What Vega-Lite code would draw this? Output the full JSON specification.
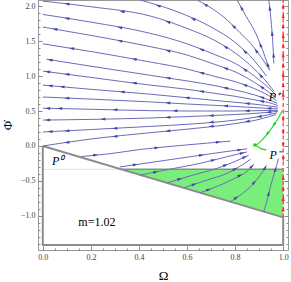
{
"$schema":"https://vega.github.io/schema/vega-lite/v6.json",
"width":250,"height":250,
"autosize":{"type":"none"},
"padding":{"left":38,"top":0,"right":3,"bottom":32},
"background":"white",
"config":{"view":{"stroke":"#999999","strokeWidth":1},"font":"Liberation Serif"},
"datasets":{
"zone":[{"omega":0.327,"phi":-0.333,"phi2":-0.333},{"omega":1,"phi":-0.333,"phi2":-1.02}],
"faint":[{"o":0,"omega":0,"phi":-0.333},{"o":1,"omega":0.327,"phi":-0.333}],
"ztop":[{"o":0,"omega":0.327,"phi":-0.333},{"o":1,"omega":1,"phi":-0.333}],
"box":[{"o":0,"omega":0,"phi":0},{"o":1,"omega":0,"phi":-1.414},{"o":2,"omega":1,"phi":-1.414},{"o":3,"omega":1,"phi":-1.02},{"o":4,"omega":0,"phi":0}],
"sl":[
{"id":"T4","o":0,"omega":0.94,"phi":2.086},{"id":"T4","o":1,"omega":0.948,"phi":1.85},{"id":"T4","o":2,"omega":0.954,"phi":1.61},{"id":"T4","o":3,"omega":0.958,"phi":1.4},{"id":"T4","o":4,"omega":0.961,"phi":1.18},
{"id":"T3","o":0,"omega":0.808,"phi":2.086},{"id":"T3","o":1,"omega":0.843,"phi":1.871},{"id":"T3","o":2,"omega":0.889,"phi":1.586},{"id":"T3","o":3,"omega":0.922,"phi":1.3},{"id":"T3","o":4,"omega":0.943,"phi":1.086},
{"id":"T2","o":0,"omega":0.642,"phi":2.086},{"id":"T2","o":1,"omega":0.71,"phi":1.95},{"id":"T2","o":2,"omega":0.767,"phi":1.8},{"id":"T2","o":3,"omega":0.82,"phi":1.62},{"id":"T2","o":4,"omega":0.864,"phi":1.467},{"id":"T2","o":5,"omega":0.91,"phi":1.26},{"id":"T2","o":6,"omega":0.945,"phi":1.08},
{"id":"T1","o":0,"omega":0.405,"phi":2.086},{"id":"T1","o":1,"omega":0.55,"phi":1.93},{"id":"T1","o":2,"omega":0.7,"phi":1.7},{"id":"T1","o":3,"omega":0.8,"phi":1.48},{"id":"T1","o":4,"omega":0.88,"phi":1.22},{"id":"T1","o":5,"omega":0.93,"phi":1.0},
{"id":"A","o":0,"omega":0,"phi":2.07},{"id":"A","o":1,"omega":0.2,"phi":1.99},{"id":"A","o":2,"omega":0.447,"phi":1.857},{"id":"A","o":3,"omega":0.6,"phi":1.68},{"id":"A","o":4,"omega":0.72,"phi":1.5},{"id":"A","o":5,"omega":0.8,"phi":1.33},{"id":"A","o":6,"omega":0.88,"phi":1.1},{"id":"A","o":7,"omega":0.935,"phi":0.9},{"id":"A","o":8,"omega":0.962,"phi":0.78},
{"id":"B","o":0,"omega":0,"phi":1.88},{"id":"B","o":1,"omega":0.2,"phi":1.77},{"id":"B","o":2,"omega":0.447,"phi":1.61},{"id":"B","o":3,"omega":0.6,"phi":1.46},{"id":"B","o":4,"omega":0.72,"phi":1.3},{"id":"B","o":5,"omega":0.8,"phi":1.18},{"id":"B","o":6,"omega":0.88,"phi":1.0},{"id":"B","o":7,"omega":0.94,"phi":0.83},{"id":"B","o":8,"omega":0.967,"phi":0.74},
{"id":"C","o":0,"omega":0,"phi":1.7},{"id":"C","o":1,"omega":0.2,"phi":1.58},{"id":"C","o":2,"omega":0.447,"phi":1.42},{"id":"C","o":3,"omega":0.6,"phi":1.3},{"id":"C","o":4,"omega":0.72,"phi":1.16},{"id":"C","o":5,"omega":0.8,"phi":1.06},{"id":"C","o":6,"omega":0.88,"phi":0.91},{"id":"C","o":7,"omega":0.94,"phi":0.77},{"id":"C","o":8,"omega":0.97,"phi":0.69},
{"id":"D","o":0,"omega":0,"phi":1.46},{"id":"D","o":1,"omega":0.2,"phi":1.35},{"id":"D","o":2,"omega":0.447,"phi":1.2},{"id":"D","o":3,"omega":0.6,"phi":1.1},{"id":"D","o":4,"omega":0.72,"phi":0.99},{"id":"D","o":5,"omega":0.8,"phi":0.92},{"id":"D","o":6,"omega":0.88,"phi":0.82},{"id":"D","o":7,"omega":0.94,"phi":0.72},{"id":"D","o":8,"omega":0.972,"phi":0.65},
{"id":"E","o":0,"omega":0.015,"phi":1.24},{"id":"E","o":1,"omega":0.2,"phi":1.14},{"id":"E","o":2,"omega":0.447,"phi":1.01},{"id":"E","o":3,"omega":0.6,"phi":0.93},{"id":"E","o":4,"omega":0.72,"phi":0.86},{"id":"E","o":5,"omega":0.8,"phi":0.8},{"id":"E","o":6,"omega":0.88,"phi":0.73},{"id":"E","o":7,"omega":0.94,"phi":0.66},{"id":"E","o":8,"omega":0.975,"phi":0.61},
{"id":"F","o":0,"omega":0,"phi":1.07},{"id":"F","o":1,"omega":0.2,"phi":0.98},{"id":"F","o":2,"omega":0.447,"phi":0.87},{"id":"F","o":3,"omega":0.6,"phi":0.81},{"id":"F","o":4,"omega":0.72,"phi":0.75},{"id":"F","o":5,"omega":0.8,"phi":0.71},{"id":"F","o":6,"omega":0.88,"phi":0.66},{"id":"F","o":7,"omega":0.94,"phi":0.62},{"id":"F","o":8,"omega":0.977,"phi":0.58},
{"id":"G","o":0,"omega":0,"phi":0.87},{"id":"G","o":1,"omega":0.2,"phi":0.81},{"id":"G","o":2,"omega":0.447,"phi":0.74},{"id":"G","o":3,"omega":0.6,"phi":0.69},{"id":"G","o":4,"omega":0.72,"phi":0.65},{"id":"G","o":5,"omega":0.8,"phi":0.625},{"id":"G","o":6,"omega":0.9,"phi":0.59},{"id":"G","o":7,"omega":0.978,"phi":0.555},
{"id":"H","o":0,"omega":0,"phi":0.7},{"id":"H","o":1,"omega":0.2,"phi":0.67},{"id":"H","o":2,"omega":0.447,"phi":0.63},{"id":"H","o":3,"omega":0.6,"phi":0.6},{"id":"H","o":4,"omega":0.72,"phi":0.58},{"id":"H","o":5,"omega":0.8,"phi":0.565},{"id":"H","o":6,"omega":0.9,"phi":0.545},{"id":"H","o":7,"omega":0.978,"phi":0.53},
{"id":"I","o":0,"omega":0,"phi":0.54},{"id":"I","o":1,"omega":0.2,"phi":0.525},{"id":"I","o":2,"omega":0.447,"phi":0.505},{"id":"I","o":3,"omega":0.6,"phi":0.5},{"id":"I","o":4,"omega":0.8,"phi":0.5},{"id":"I","o":5,"omega":0.9,"phi":0.505},{"id":"I","o":6,"omega":0.978,"phi":0.51},
{"id":"J","o":0,"omega":0,"phi":0.37},{"id":"J","o":1,"omega":0.2,"phi":0.38},{"id":"J","o":2,"omega":0.447,"phi":0.4},{"id":"J","o":3,"omega":0.6,"phi":0.42},{"id":"J","o":4,"omega":0.8,"phi":0.45},{"id":"J","o":5,"omega":0.9,"phi":0.47},{"id":"J","o":6,"omega":0.978,"phi":0.495},
{"id":"K","o":0,"omega":0,"phi":0.2},{"id":"K","o":1,"omega":0.2,"phi":0.235},{"id":"K","o":2,"omega":0.447,"phi":0.28},{"id":"K","o":3,"omega":0.6,"phi":0.31},{"id":"K","o":4,"omega":0.8,"phi":0.37},{"id":"K","o":5,"omega":0.9,"phi":0.42},{"id":"K","o":6,"omega":0.975,"phi":0.475},
{"id":"L","o":0,"omega":0,"phi":0},{"id":"L","o":1,"omega":0.2,"phi":0.1},{"id":"L","o":2,"omega":0.447,"phi":0.19},{"id":"L","o":3,"omega":0.6,"phi":0.24},{"id":"L","o":4,"omega":0.8,"phi":0.32},{"id":"L","o":5,"omega":0.9,"phi":0.38},{"id":"L","o":6,"omega":0.97,"phi":0.45},
{"id":"M","o":0,"omega":0.16,"phi":-0.15},{"id":"M","o":1,"omega":0.28,"phi":-0.11},{"id":"M","o":2,"omega":0.405,"phi":-0.05},{"id":"M","o":3,"omega":0.55,"phi":0},{"id":"M","o":4,"omega":0.68,"phi":0.04},{"id":"M","o":5,"omega":0.78,"phi":0.07},
{"id":"N","o":0,"omega":0.32,"phi":-0.3},{"id":"N","o":1,"omega":0.45,"phi":-0.235},{"id":"N","o":2,"omega":0.6,"phi":-0.16},{"id":"N","o":3,"omega":0.72,"phi":-0.1},{"id":"N","o":4,"omega":0.85,"phi":-0.04},
{"id":"G1","o":0,"omega":0.405,"phi":-0.415},{"id":"G1","o":1,"omega":0.53,"phi":-0.33},{"id":"G1","o":2,"omega":0.655,"phi":-0.248},{"id":"G1","o":3,"omega":0.77,"phi":-0.15},{"id":"G1","o":4,"omega":0.85,"phi":-0.085},
{"id":"G2","o":0,"omega":0.517,"phi":-0.527},{"id":"G2","o":1,"omega":0.62,"phi":-0.42},{"id":"G2","o":2,"omega":0.725,"phi":-0.319},{"id":"G2","o":3,"omega":0.8,"phi":-0.22},{"id":"G2","o":4,"omega":0.857,"phi":-0.13},
{"id":"G3","o":0,"omega":0.586,"phi":-0.598},{"id":"G3","o":1,"omega":0.68,"phi":-0.49},{"id":"G3","o":2,"omega":0.767,"phi":-0.39},{"id":"G3","o":3,"omega":0.83,"phi":-0.27},{"id":"G3","o":4,"omega":0.864,"phi":-0.19},
{"id":"G4","o":0,"omega":0.655,"phi":-0.668},{"id":"G4","o":1,"omega":0.73,"phi":-0.57},{"id":"G4","o":2,"omega":0.794,"phi":-0.47},{"id":"G4","o":3,"omega":0.85,"phi":-0.36},{"id":"G4","o":4,"omega":0.878,"phi":-0.26},
{"id":"G5","o":0,"omega":0.78,"phi":-0.796},{"id":"G5","o":1,"omega":0.83,"phi":-0.68},{"id":"G5","o":2,"omega":0.864,"phi":-0.58},{"id":"G5","o":3,"omega":0.895,"phi":-0.46},{"id":"G5","o":4,"omega":0.919,"phi":-0.343},{"id":"G5","o":5,"omega":0.93,"phi":-0.28},
{"id":"G6","o":0,"omega":0.919,"phi":-0.937},{"id":"G6","o":1,"omega":0.935,"phi":-0.75},{"id":"G6","o":2,"omega":0.947,"phi":-0.58},{"id":"G6","o":3,"omega":0.962,"phi":-0.4},{"id":"G6","o":4,"omega":0.975,"phi":-0.25},{"id":"G6","o":5,"omega":0.98,"phi":-0.18}
],
"curve":[{"o":0,"omega":0.996,"phi":0.504},{"o":1,"omega":0.975,"phi":0.371},{"o":2,"omega":0.947,"phi":0.229},{"o":3,"omega":0.919,"phi":0.11},{"o":4,"omega":0.882,"phi":0.014},{"o":5,"omega":0.905,"phi":-0.033},{"o":6,"omega":0.93,"phi":-0.057}],
"axisline":[{"o":0,"omega":1,"phi":-1.02},{"o":1,"omega":1,"phi":2.086}],
"arrows":[
{"kind":"flow","omega":0.944,"phi":1.97,"dir":-7},{"kind":"flow","omega":0.954,"phi":1.61,"dir":-5},{"kind":"flow","omega":0.96,"phi":1.3,"dir":-3},
{"kind":"flow","omega":0.826,"phi":1.975,"dir":-29},{"kind":"flow","omega":0.905,"phi":1.447,"dir":-22},{"kind":"flow","omega":0.935,"phi":1.167,"dir":-19},
{"kind":"flow","omega":0.676,"phi":2.018,"dir":-58},{"kind":"flow","omega":0.793,"phi":1.712,"dir":-46},{"kind":"flow","omega":0.887,"phi":1.363,"dir":-37},
{"kind":"flow","omega":0.48,"phi":2.005,"dir":-73},{"kind":"flow","omega":0.625,"phi":1.815,"dir":-66},{"kind":"flow","omega":0.84,"phi":1.35,"dir":-47},
{"kind":"flow","omega":0.1,"phi":2.03,"dir":-83},{"kind":"flow","omega":0.33,"phi":1.92,"dir":-81},{"kind":"flow","omega":0.52,"phi":1.773,"dir":-71},{"kind":"flow","omega":0.76,"phi":1.415,"dir":-58},{"kind":"flow","omega":0.905,"phi":1.009,"dir":-44},
{"kind":"flow","omega":0.1,"phi":1.825,"dir":-81},{"kind":"flow","omega":0.32,"phi":1.692,"dir":-79},{"kind":"flow","omega":0.66,"phi":1.38,"dir":-69},{"kind":"flow","omega":0.84,"phi":1.09,"dir":-57},
{"kind":"flow","omega":0.05,"phi":1.67,"dir":-80},{"kind":"flow","omega":0.32,"phi":1.502,"dir":-79},{"kind":"flow","omega":0.52,"phi":1.363,"dir":-77},{"kind":"flow","omega":0.76,"phi":1.11,"dir":-70},{"kind":"flow","omega":0.91,"phi":0.84,"dir":-56},
{"kind":"flow","omega":0.12,"phi":1.394,"dir":-81},{"kind":"flow","omega":0.38,"phi":1.241,"dir":-80},{"kind":"flow","omega":0.66,"phi":1.045,"dir":-75},{"kind":"flow","omega":0.84,"phi":0.87,"dir":-70},
{"kind":"flow","omega":0.03,"phi":1.232,"dir":-81},{"kind":"flow","omega":0.52,"phi":0.972,"dir":-81},{"kind":"flow","omega":0.76,"phi":0.83,"dir":-78},{"kind":"flow","omega":0.91,"phi":0.695,"dir":-72},
{"kind":"flow","omega":0.02,"phi":1.061,"dir":-82},{"kind":"flow","omega":0.1,"phi":1.025,"dir":-82},{"kind":"flow","omega":0.38,"phi":0.9,"dir":-83},{"kind":"flow","omega":0.66,"phi":0.78,"dir":-82},{"kind":"flow","omega":0.91,"phi":0.64,"dir":-79},
{"kind":"flow","omega":0.03,"phi":0.861,"dir":-85},{"kind":"flow","omega":0.08,"phi":0.846,"dir":-85},{"kind":"flow","omega":0.33,"phi":0.773,"dir":-85},{"kind":"flow","omega":0.6,"phi":0.69,"dir":-85},{"kind":"flow","omega":0.85,"phi":0.607,"dir":-84},
{"kind":"flow","omega":0.1,"phi":0.685,"dir":-87},{"kind":"flow","omega":0.52,"phi":0.616,"dir":-87},{"kind":"flow","omega":0.76,"phi":0.5725,"dir":-87},{"kind":"flow","omega":0.94,"phi":0.537,"dir":-87},
{"kind":"flow","omega":0.02,"phi":0.538,"dir":-89},{"kind":"flow","omega":0.07,"phi":0.535,"dir":-89},{"kind":"flow","omega":0.3,"phi":0.517,"dir":-89},{"kind":"flow","omega":0.55,"phi":0.502,"dir":-90},{"kind":"flow","omega":0.85,"phi":0.502,"dir":-91},
{"kind":"flow","omega":0.02,"phi":0.371,"dir":-91},{"kind":"flow","omega":0.25,"phi":0.384,"dir":-91},{"kind":"flow","omega":0.52,"phi":0.41,"dir":-92},{"kind":"flow","omega":0.7,"phi":0.435,"dir":-92},{"kind":"flow","omega":0.94,"phi":0.483,"dir":-95},
{"kind":"flow","omega":0.03,"phi":0.205,"dir":-93},{"kind":"flow","omega":0.1,"phi":0.2175,"dir":-93},{"kind":"flow","omega":0.3,"phi":0.253,"dir":-93},{"kind":"flow","omega":0.7,"phi":0.34,"dir":-95},{"kind":"flow","omega":0.9,"phi":0.42,"dir":-100},
{"kind":"flow","omega":0.1,"phi":0.05,"dir":-98},{"kind":"flow","omega":0.3,"phi":0.136,"dir":-96},{"kind":"flow","omega":0.52,"phi":0.214,"dir":-95},{"kind":"flow","omega":0.7,"phi":0.28,"dir":-97},{"kind":"flow","omega":0.85,"phi":0.35,"dir":-100},
{"kind":"flow","omega":0.22,"phi":-0.13,"dir":84},{"kind":"flow","omega":0.475,"phi":-0.026,"dir":84},{"kind":"flow","omega":0.73,"phi":0.055,"dir":85},
{"kind":"flow","omega":0.385,"phi":-0.2675,"dir":82},{"kind":"flow","omega":0.66,"phi":-0.13,"dir":82},{"kind":"flow","omega":0.82,"phi":-0.054,"dir":82},
{"kind":"flow","omega":0.47,"phi":-0.371,"dir":79},{"kind":"flow","omega":0.71,"phi":-0.201,"dir":76},{"kind":"flow","omega":0.83,"phi":-0.101,"dir":77},
{"kind":"flow","omega":0.57,"phi":-0.472,"dir":73},{"kind":"flow","omega":0.76,"phi":-0.273,"dir":69},{"kind":"flow","omega":0.84,"phi":-0.157,"dir":65},
{"kind":"flow","omega":0.63,"phi":-0.547,"dir":72},{"kind":"flow","omega":0.8,"phi":-0.327,"dir":61},
{"kind":"flow","omega":0.69,"phi":-0.622,"dir":69},{"kind":"flow","omega":0.82,"phi":-0.419,"dir":60},{"kind":"flow","omega":0.87,"phi":-0.289,"dir":44},
{"kind":"flow","omega":0.805,"phi":-0.738,"dir":56},{"kind":"flow","omega":0.88,"phi":-0.518,"dir":42},{"kind":"flow","omega":0.925,"phi":-0.309,"dir":31},
{"kind":"flow","omega":0.94,"phi":-0.679,"dir":14},{"kind":"flow","omega":0.968,"phi":-0.331,"dir":16},
{"kind":"sep","omega":0.961,"phi":0.3,"dir":-146},{"kind":"sep","omega":0.933,"phi":0.17,"dir":-141},
{"kind":"axis","omega":1,"phi":2.0,"dir":0},{"kind":"axis","omega":1,"phi":1.86,"dir":0},{"kind":"axis","omega":1,"phi":1.72,"dir":0},{"kind":"axis","omega":1,"phi":1.58,"dir":0},{"kind":"axis","omega":1,"phi":1.44,"dir":0},{"kind":"axis","omega":1,"phi":1.3,"dir":0},{"kind":"axis","omega":1,"phi":1.16,"dir":0},{"kind":"axis","omega":1,"phi":1.02,"dir":0},{"kind":"axis","omega":1,"phi":0.88,"dir":0},{"kind":"axis","omega":1,"phi":0.74,"dir":0},
{"kind":"axis","omega":1,"phi":0.37,"dir":180},{"kind":"axis","omega":1,"phi":0.19,"dir":180},{"kind":"axis","omega":1,"phi":0.01,"dir":180},{"kind":"axis","omega":1,"phi":-0.19,"dir":180},
{"kind":"axis","omega":1,"phi":-0.45,"dir":0},{"kind":"axis","omega":1,"phi":-0.6,"dir":0},{"kind":"axis","omega":1,"phi":-0.75,"dir":0},{"kind":"axis","omega":1,"phi":-0.9,"dir":0}
],
"dot":[{"omega":0.882,"phi":0.014}],
"pts":[{"omega":0.062,"phi":-0.22,"label":"P⁰"},{"omega":0.964,"phi":0.7,"label":"P⁺"},{"omega":0.967,"phi":-0.129,"label":"P⁻"}],
"note":[{"omega":0.225,"phi":-1.085,"label":"m=1.02"}]
},
"encoding":{
"x":{"field":"omega","type":"quantitative","scale":{"domain":[-0.02,1.02],"nice":false,"zero":false},
"axis":{"title":"Ω","titleFont":"Liberation Serif","titleFontSize":13,"titleFontWeight":"normal","titleColor":"#000000","titlePadding":6,
"values":[0,0.05,0.1,0.15,0.2,0.25,0.3,0.35,0.4,0.45,0.5,0.55,0.6,0.65,0.7,0.75,0.8,0.85,0.9,0.95,1],
"labelExpr":"abs(datum.value*5-round(datum.value*5))<0.001 ? format(datum.value,'.1f') : ''",
"labelFont":"Liberation Serif","labelFontSize":8,"labelColor":"#444444","labelOverlap":false,"labelFlush":false,"labelPadding":7,
"domain":false,"grid":false,"tickColor":"#888888","tickWidth":1,
"tickSize":{"condition":{"test":"abs(datum.value*5-round(datum.value*5))<0.001","value":-4},"value":-2}}},
"y":{"field":"phi","type":"quantitative","scale":{"domain":[-1.486,2.086],"nice":false,"zero":false},
"axis":{"title":"Φ̇","titleFont":"Liberation Serif","titleFontSize":13,"titleFontWeight":"normal","titleColor":"#000000","titlePadding":6,
"values":[-1.4,-1.3,-1.2,-1.1,-1.0,-0.9,-0.8,-0.7,-0.6,-0.5,-0.4,-0.3,-0.2,-0.1,0,0.1,0.2,0.3,0.4,0.5,0.6,0.7,0.8,0.9,1.0,1.1,1.2,1.3,1.4,1.5,1.6,1.7,1.8,1.9,2.0],
"labelExpr":"abs(datum.value*2-round(datum.value*2))<0.001 ? format(datum.value,'.1f') : ''",
"labelFont":"Liberation Serif","labelFontSize":8,"labelColor":"#444444","labelOverlap":false,"labelPadding":7,
"domain":false,"grid":false,"tickColor":"#888888","tickWidth":1,
"tickSize":{"condition":{"test":"abs(datum.value*2-round(datum.value*2))<0.001","value":-4},"value":-2}}}
},
"layer":[
{"layer":[
{"data":{"name":"zone"},"mark":{"type":"area","color":"#7aee7a","opacity":1},"encoding":{"y2":{"field":"phi2"}}},
{"data":{"name":"faint"},"mark":{"type":"line","color":"#e2e2e2","strokeWidth":1},"encoding":{"order":{"field":"o"}}},
{"data":{"name":"ztop"},"mark":{"type":"line","color":"#8c8c8c","strokeWidth":1.5},"encoding":{"order":{"field":"o"}}},
{"data":{"name":"box"},"mark":{"type":"line","color":"#8c8c8c","strokeWidth":2},"encoding":{"order":{"field":"o"}}},
{"data":{"name":"sl"},"mark":{"type":"line","color":"#6b6cb8","strokeWidth":1,"interpolate":"monotone"},"encoding":{"detail":{"field":"id"},"order":{"field":"o"}}},
{"data":{"name":"curve"},"mark":{"type":"line","color":"#33dd33","strokeWidth":1.3,"interpolate":"monotone"},"encoding":{"order":{"field":"o"}}},
{"data":{"name":"axisline"},"mark":{"type":"line","color":"#ff3030","strokeWidth":1.2,"strokeDash":[4,2.5]},"encoding":{"order":{"field":"o"}}},
{"data":{"name":"arrows"},"mark":{"type":"point","filled":true,"opacity":1,"size":25,"shape":"M0,-1L0.6,1L-0.6,1Z"},
 "encoding":{"angle":{"field":"dir","type":"quantitative","scale":null},"color":{"field":"kind","type":"nominal","scale":{"domain":["flow","axis","sep"],"range":["#4747a8","#ff2020","#22cc22"]},"legend":null}}},
{"data":{"name":"dot"},"mark":{"type":"point","shape":"circle","filled":true,"size":12,"color":"#22cc22","opacity":1}},
{"data":{"name":"pts"},"mark":{"type":"text","font":"Liberation Serif","fontSize":12,"fontStyle":"italic","color":"#000000","align":"center","baseline":"middle"},"encoding":{"text":{"field":"label"}}},
{"data":{"name":"note"},"mark":{"type":"text","font":"Liberation Serif","fontSize":12,"color":"#000000","align":"center","baseline":"middle"},"encoding":{"text":{"field":"label"}}}
]},
{"data":{"name":"dot"},"mark":{"type":"point","opacity":0},
 "encoding":{"y":{"field":"phi","type":"quantitative","scale":{"domain":[-1.486,2.086],"nice":false,"zero":false},
  "axis":{"orient":"right","title":null,"labels":false,"domain":false,"grid":false,"tickColor":"#888888","tickWidth":1,
  "values":[-1.4,-1.3,-1.2,-1.1,-1.0,-0.9,-0.8,-0.7,-0.6,-0.5,-0.4,-0.3,-0.2,-0.1,0,0.1,0.2,0.3,0.4,0.5,0.6,0.7,0.8,0.9,1.0,1.1,1.2,1.3,1.4,1.5,1.6,1.7,1.8,1.9,2.0],
  "tickSize":{"condition":{"test":"abs(datum.value*2-round(datum.value*2))<0.001","value":-4},"value":-2}}}}}
],
"resolve":{"axis":{"y":"independent"}}
}
